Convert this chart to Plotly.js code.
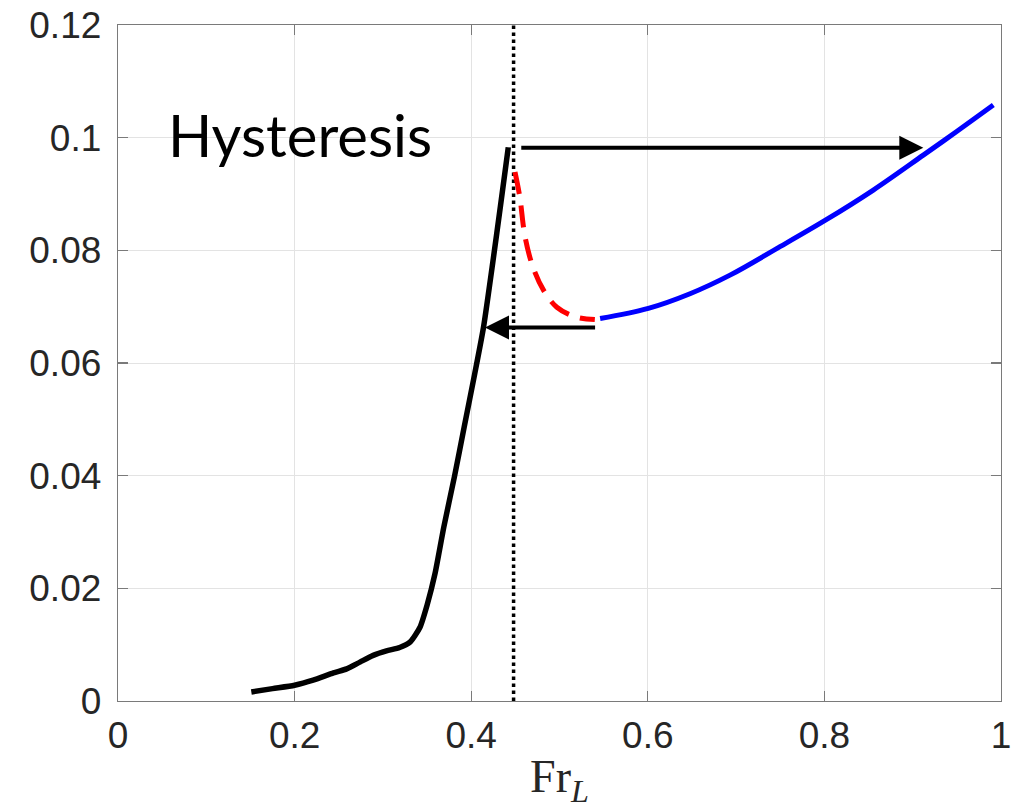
<!DOCTYPE html>
<html>
<head>
<meta charset="utf-8">
<script src="https://cdn.plot.ly/plotly-3.0.1.min.js"></script>
<style>html,body{margin:0;padding:0;background:#fff;}#chart{width:1028px;height:809px;}</style>
</head>
<body>
<div id="chart"></div>
<script>
// Black branch (low-Froude, steep rise)
const blackX = [0.151, 0.175, 0.200, 0.221, 0.244, 0.259, 0.274, 0.289, 0.304, 0.319, 0.331, 0.342, 0.350, 0.359, 0.369, 0.381, 0.392, 0.404, 0.414, 0.425, 0.433, 0.442];
const blackY = [0.0016, 0.0022, 0.0028, 0.0037, 0.0050, 0.0057, 0.0069, 0.0081, 0.0089, 0.0095, 0.0105, 0.0131, 0.0170, 0.0226, 0.0309, 0.0398, 0.0486, 0.0581, 0.0664, 0.0785, 0.0877, 0.0983];
// Red dashed (unstable) branch
const redX = [0.4496, 0.455, 0.461, 0.470, 0.482, 0.497, 0.518, 0.540];
const redY = [0.0939, 0.0895, 0.0824, 0.0770, 0.0729, 0.0699, 0.0682, 0.0677];
// Blue branch (high-Froude)
const blueX = [0.546, 0.6006, 0.6478, 0.6931, 0.7459, 0.8007, 0.8554, 0.9120, 0.9498, 0.9913];
const blueY = [0.0679, 0.0697, 0.0723, 0.0756, 0.0803, 0.0853, 0.0907, 0.0969, 0.1011, 0.1058];
// Vertical dotted marker
const vlineX = [0.448, 0.448];
const vlineY = [0, 0.12];
// Arrows: tail x, tip x, y
const arrowUp = {tail: 0.455, tip: 0.912, y: 0.0982};
const arrowDown = {tail: 0.542, tip: 0.4156, y: 0.0663};
// Text
const labelText = 'Hysteresis';
const labelPos = {x: 0.206, y: 0.1005};
const xTicks = [0, 0.2, 0.4, 0.6, 0.8, 1];
const yTicks = [0, 0.02, 0.04, 0.06, 0.08, 0.1, 0.12];

const traces = [
  {x: vlineX, y: vlineY, mode: 'lines', line: {color: '#000', width: 3.5, dash: 'dot'}, hoverinfo: 'skip'},
  {x: blackX, y: blackY, mode: 'lines', line: {color: '#000', width: 5.5, shape: 'spline', smoothing: 0.6}},
  {x: redX, y: redY, mode: 'lines', line: {color: '#ff0000', width: 5, dash: '22px,12px', shape: 'spline', smoothing: 1}},
  {x: blueX, y: blueY, mode: 'lines', line: {color: '#0000ff', width: 5, shape: 'spline', smoothing: 1}}
];

const axisCommon = {
  showline: true, mirror: 'ticks', linecolor: '#7a7a7a', linewidth: 1.3,
  ticks: 'inside', ticklen: 10, tickcolor: '#7a7a7a', tickwidth: 1.2,
  showgrid: true, gridcolor: '#e3e3e3', gridwidth: 1, zeroline: false,
  tickfont: {family: 'Liberation Sans, Arial, sans-serif', size: 37, color: '#262626'}
};

const arrowStyle = {showarrow: true, text: '', axref: 'x', ayref: 'y', xref: 'x', yref: 'y',
  arrowhead: 2, arrowsize: 1.2, arrowwidth: 4, arrowcolor: '#000', standoff: 0, startstandoff: 0};

const layout = {
  width: 1028, height: 809,
  margin: {l: 118, r: 27, t: 25, b: 108},
  paper_bgcolor: '#fff', plot_bgcolor: '#fff',
  showlegend: false,
  xaxis: Object.assign({}, axisCommon, {
    range: [0, 1], tickvals: xTicks, ticktext: xTicks.map(String), ticklabelstandoff: 1,
    title: {text: 'Fr<sub><i>L</i></sub>', font: {family: 'Liberation Serif, DejaVu Serif, serif', size: 46, color: '#262626'}, standoff: 20}
  }),
  yaxis: Object.assign({}, axisCommon, {
    range: [0, 0.12], tickvals: yTicks, ticktext: yTicks.map(String), ticklabelstandoff: 8
  }),
  annotations: [
    Object.assign({}, arrowStyle, {x: arrowUp.tip, y: arrowUp.y, ax: arrowUp.tail, ay: arrowUp.y}),
    Object.assign({}, arrowStyle, {x: arrowDown.tip, y: arrowDown.y, ax: arrowDown.tail, ay: arrowDown.y}),
    {x: labelPos.x, y: labelPos.y, xref: 'x', yref: 'y', text: labelText, showarrow: false,
     xanchor: 'center', yanchor: 'middle', font: {family: 'Lato, sans-serif', size: 58, color: '#000'}}
  ]
};

Plotly.newPlot('chart', traces, layout, {displayModeBar: false, staticPlot: true});
</script>
</body>
</html>
